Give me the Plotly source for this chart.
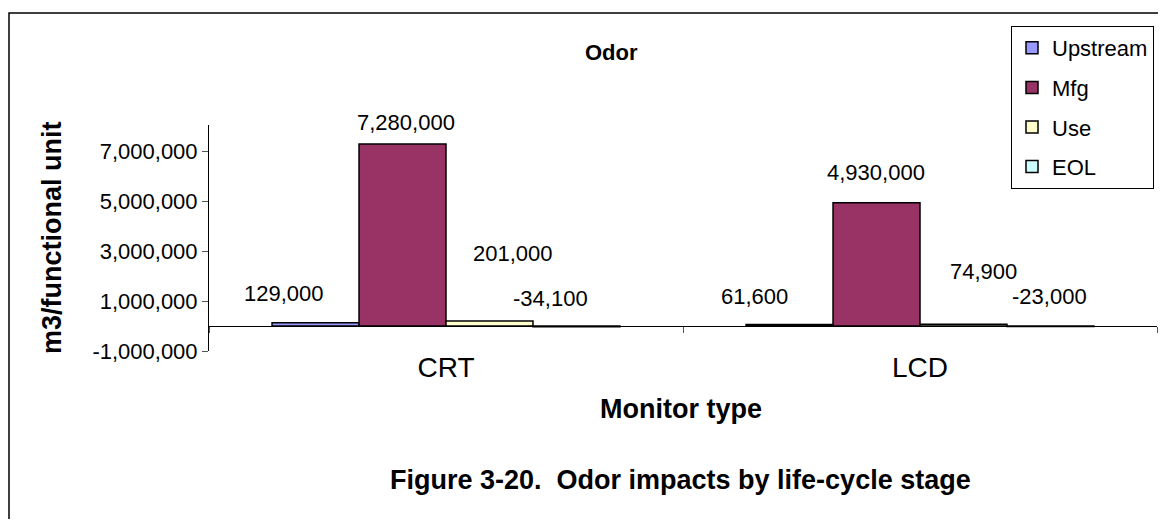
import plotly.graph_objects as go

# --- data -------------------------------------------------------------------
monitor_types = ["CRT", "LCD"]
stages = ["Upstream", "Mfg", "Use", "EOL"]
upstream = [129000, 61600]
mfg = [7280000, 4930000]
use = [201000, 74900]
eol = [-34100, -23000]
y_ticks = [-1000000, 1000000, 3000000, 5000000, 7000000]

series = [upstream, mfg, use, eol]
colours = ["#9999FF", "#993366", "#FFFFCC", "#CCFFFF"]
FONT = "Arial, 'Liberation Sans', sans-serif"

# page is 1166x527 but the body has an 8px margin, so the figure is smaller
OFF = 8
W, H = 1166 - 2 * OFF, 527 - 2 * OFF
# plot area edges, in page pixels
L, R, T, B = 209, 1157, 125, 351
BAR_PX = 87


def px_x(px):
    return (px - L) / (R - L)


def px_y(py):
    return (B - py) / (B - T)


fig = go.Figure()

for i, (name, vals) in enumerate(zip(stages, series)):
    fig.add_trace(
        go.Bar(
            x=monitor_types,
            y=vals,
            name=name,
            legendgroup=name,
            marker=dict(color=colours[i], line=dict(color="black", width=1.5)),
        )
    )

# data labels: Excel placed them a little irregularly, offsets in px
label_dx = [[-32, 3, 23, -26], [-35, -1, 20, -1]]
label_dy = [[29, 22, 67, 28], [28, 30, 53, 30]]
annotations = []
for i, vals in enumerate(series):
    for j, cat in enumerate(monitor_types):
        annotations.append(
            dict(
                x=cat,
                y=max(vals[j], 0),
                xref="x",
                yref="y",
                text=f"{vals[j]:,}",
                showarrow=False,
                xanchor="center",
                yanchor="middle",
                xshift=(i - 1.5) * BAR_PX + label_dx[j][i],
                yshift=label_dy[j][i],
                font=dict(family=FONT, size=22, color="black"),
            )
        )


def paper_text(text, x, y, size, angle=0):
    return dict(text=text, x=px_x(x), y=px_y(y), xref="paper", yref="paper",
                xanchor="center", yanchor="middle", textangle=angle,
                showarrow=False, font=dict(family=FONT, size=size, color="black"))


annotations += [
    paper_text("<b>Odor</b>", 611, 52, 22),
    paper_text("<b>m3/functional unit</b>", 52, 238, 27, angle=-90),
    paper_text("<b>Monitor type</b>", 681, 409, 27),
    paper_text("<b>Figure 3-20.&nbsp; Odor impacts by life-cycle stage</b>", 680, 480, 27),
]

fig.update_layout(
    width=W,
    height=H,
    margin=dict(l=L - OFF, r=W - (R - OFF), t=T - OFF, b=H - (B - OFF), pad=0),
    barmode="group",
    bargap=0.266,
    bargroupgap=0,
    plot_bgcolor="white",
    paper_bgcolor="white",
    font=dict(family=FONT, color="black"),
    annotations=annotations,
    xaxis=dict(
        anchor="free",
        position=px_y(326),
        showline=True,
        linecolor="black",
        linewidth=1,
        ticks="outside",
        tickson="boundaries",
        ticklen=6,
        tickcolor="#555555",
        ticklabelstandoff=16,
        tickfont=dict(size=28),
        showgrid=False,
    ),
    yaxis=dict(
        range=[-1000000, 8040000],
        tickvals=y_ticks,
        ticktext=[f"{v:,}" for v in y_ticks],
        showline=True,
        linecolor="black",
        linewidth=1,
        ticks="outside",
        ticklen=6,
        tickcolor="#555555",
        tickfont=dict(size=22),
        showgrid=False,
        zeroline=False,
    ),
    legend=dict(
        x=px_x(1154),
        y=px_y(26),
        xanchor="right",
        yanchor="top",
        bordercolor="black",
        borderwidth=1,
        bgcolor="white",
        font=dict(size=22),
        tracegroupgap=8,
        itemwidth=30,
    ),
    shapes=[
        dict(type="rect", xref="paper", yref="paper",
             x0=px_x(OFF + 1), y0=px_y(540), x1=px_x(1180), y1=px_y(13),
             line=dict(color="black", width=1.5), layer="below"),
    ],
)

fig.write_html("out.html")
